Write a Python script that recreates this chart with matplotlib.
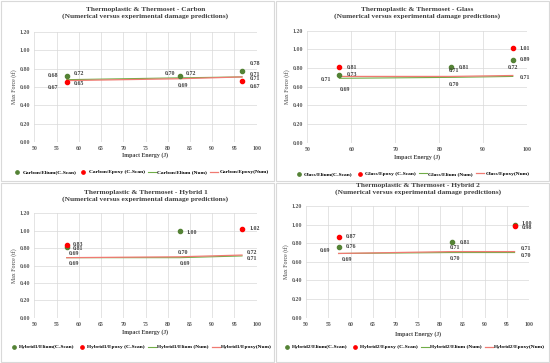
import matplotlib
matplotlib.use("Agg")
import matplotlib.pyplot as plt
from matplotlib.patches import Rectangle

plt.rcParams['font.family'] = ['Liberation Serif', 'DejaVu Serif']
plt.rcParams['font.weight'] = 'bold'

W, H = 550, 363

# impact energies (J)
energy = [57.3, 82.7, 96.7]

# Carbon
carbon_elium_cscan = [0.72, 0.72, 0.78]
carbon_epoxy_cscan_x = [57.3, 96.7]
carbon_epoxy_cscan = [0.65, 0.67]
carbon_elium_num = [0.68, 0.70, 0.71]
carbon_epoxy_num = [0.67, 0.69, 0.71]

# Glass
glass_elium_cscan = [0.73, 0.81, 0.89]
glass_epoxy_cscan_x = [57.3, 96.7]
glass_epoxy_cscan = [0.81, 1.01]
glass_elium_num = [0.69, 0.70, 0.71]
glass_epoxy_num = [0.71, 0.71, 0.72]

# Hybrid 1
hyb1_elium_cscan_x = [57.3, 82.7]
hyb1_elium_cscan = [0.81, 1.00]
hyb1_epoxy_cscan_x = [57.3, 96.7]
hyb1_epoxy_cscan = [0.83, 1.02]
hyb1_elium_num = [0.69, 0.69, 0.71]
hyb1_epoxy_num = [0.69, 0.70, 0.72]

# Hybrid 2
hyb2_elium_cscan = [0.76, 0.81, 1.00]
hyb2_epoxy_cscan_x = [57.3, 96.7]
hyb2_epoxy_cscan = [0.87, 0.98]
hyb2_elium_num = [0.69, 0.70, 0.70]
hyb2_epoxy_num = [0.69, 0.71, 0.71]

GREEN = '#548235'
RED = '#ff0000'
LRED = '#f07a72'
GRID = '#d9d9d9'
FS = 4.2
LFS = 3.9


def px_axes(fig, x0, x1, ytop, ybot):
    return fig.add_axes([x0 / W, (H - ybot) / H, (x1 - x0) / W, (ybot - ytop) / H])


def label(ax, x, y, txt, dx, dy):
    ax.annotate(txt, (x, y), xytext=(dx, dy), textcoords='offset points',
                fontsize=FS, ha='center', va='center', color='#404040')


def panel(fig, box, name, xstep, cscan_e, cscan_p, num_e, num_p, labels,
          title_y, xlab_y, leg_xy):
    x0, x1, ytop, ybot = box
    ax = px_axes(fig, x0, x1, ytop, ybot)
    ax.plot(energy, num_e[0], color='#70ad47', lw=0.8, label=name + '/Elium (Num)', zorder=2)
    ax.plot(energy, num_p[0], color=LRED, lw=0.9, label=name + '/Epoxy(Num)', zorder=2)
    ax.scatter(cscan_e[0], cscan_e[1], s=9, color=GREEN, label=name + '/Elium(C-Scan)', zorder=3)
    ax.scatter(cscan_p[0], cscan_p[1], s=9, color=RED, label=name + '/Epoxy (C-Scan)', zorder=3)
    for (x, y, t, dx, dy) in labels:
        label(ax, x, y, t, dx, dy)
    ax.set_xlim(50, 100)
    ax.set_ylim(0, 1.2)
    ax.set_xticks(range(50, 101, xstep))
    ax.set_yticks([i * 0.2 for i in range(7)])
    ax.set_yticklabels(['%.2f' % (i * 0.2) for i in range(7)])
    ax.tick_params(labelsize=FS, length=0, colors='#595959', pad=3)
    ax.grid(True, color=GRID, lw=0.5)
    for s in ax.spines.values():
        s.set_visible(False)
    ax.set_axisbelow(True)
    ax.set_ylabel('Max Force (tf)', fontsize=FS, color='#404040', labelpad=2)
    cx = (x0 + x1) / 2 / W
    fig.text(cx, 1 - title_y / H,
             'Thermoplastic & Thermoset - ' + name.replace('Hybrid1', 'Hybrid 1').replace('Hybrid2', 'Hybrid 2')
             + '\n(Numerical versus experimental damage predictions)',
             ha='center', va='center', fontsize=5.3, color='#404040', linespacing=1.15)
    fig.text(cx, 1 - xlab_y / H, 'Impact Energy (J)', ha='center', va='center',
             fontsize=FS, color='#404040')
    h, l = ax.get_legend_handles_labels()
    order = [2, 3, 0, 1]
    ax.legend([h[i] for i in order], [l[i] for i in order], ncol=4, loc='center',
              bbox_to_anchor=(leg_xy[0] / W, 1 - leg_xy[1] / H),
              bbox_transform=fig.transFigure, frameon=False, fontsize=LFS,
              handlelength=1.4, columnspacing=0.6, handletextpad=0.3, markerscale=0.8)
    return ax


fig = plt.figure(figsize=(W / 100, H / 100), dpi=100)

for (rx, ry, rw, rh) in [(1, 1, 273, 180), (276, 1, 273, 180), (1, 183, 273, 179), (276, 183, 273, 179)]:
    fig.patches.append(Rectangle((rx / W, 1 - (ry + rh) / H), rw / W, rh / H,
                                 transform=fig.transFigure, fill=False, ec='#d9d9d9', lw=0.8))

e = energy
panel(fig, (34.3, 256.7, 32, 142), 'Carbon', 5,
      (e, carbon_elium_cscan), (carbon_epoxy_cscan_x, carbon_epoxy_cscan),
      (carbon_elium_num,), (carbon_epoxy_num,),
      [(e[0], carbon_elium_num[0], '0.68', -10, 3), (e[0], carbon_elium_cscan[0], '0.72', 9, 2),
       (e[0], carbon_epoxy_num[0], '0.67', -10, -5), (e[0], carbon_epoxy_cscan[0], '0.65', 9, -1),
       (e[1], carbon_elium_num[1], '0.70', -7, 3), (e[1], carbon_elium_cscan[1], '0.72', 8, 2),
       (e[1], carbon_epoxy_num[1], '0.69', 2, -5),
       (e[2], carbon_elium_cscan[2], '0.78', 9, 5), (e[2], carbon_elium_num[2], '0.71', 9, 2),
       (e[2], carbon_epoxy_num[2], '0.71', 9, -1), (e[2], carbon_epoxy_cscan[1], '0.67', 9, -4)],
      13, 155, (141, 172))

panel(fig, (307.3, 527.3, 30.7, 142.7), 'Glass', 10,
      (e, glass_elium_cscan), (glass_epoxy_cscan_x, glass_epoxy_cscan),
      (glass_elium_num,), (glass_epoxy_num,),
      [(e[0], glass_epoxy_cscan[0], '0.81', 9, 0), (e[0], glass_elium_cscan[0], '0.73', 9, 0),
       (e[0], glass_epoxy_num[0], '0.71', -10, -2), (e[0], glass_elium_num[0], '0.69', 4, -8),
       (e[1], glass_elium_cscan[1], '0.81', 9, 0), (e[1], glass_epoxy_num[1], '0.71', 2, 4),
       (e[1], glass_elium_num[1], '0.70', 2, -5),
       (e[2], glass_epoxy_cscan[1], '1.01', 9, 0), (e[2], glass_elium_cscan[2], '0.89', 9, 0),
       (e[2], glass_epoxy_num[2], '0.72', 0, 6), (e[2], glass_elium_num[2], '0.71', 9, -1)],
      13, 157, (412, 174))

panel(fig, (34.3, 256.7, 213.3, 317.7), 'Hybrid1', 5,
      (hyb1_elium_cscan_x, hyb1_elium_cscan), (hyb1_epoxy_cscan_x, hyb1_epoxy_cscan),
      (hyb1_elium_num,), (hyb1_epoxy_num,),
      [(e[0], hyb1_epoxy_cscan[0], '0.83', 8, 1), (e[0], hyb1_elium_cscan[0], '0.81', 8, -1),
       (e[0], hyb1_epoxy_num[0], '0.69', 5, 3), (e[0], hyb1_elium_num[0], '0.69', 5, -4),
       (e[1], hyb1_elium_cscan[1], '1.00', 9, -1), (e[1], hyb1_epoxy_num[1], '0.70', 2, 3),
       (e[1], hyb1_elium_num[1], '0.69', 4, -4),
       (e[2], hyb1_epoxy_cscan[1], '1.02', 9, 0), (e[2], hyb1_epoxy_num[2], '0.72', 7, 2),
       (e[2], hyb1_elium_num[2], '0.71', 7, -2)],
      196, 332, (141, 347))

panel(fig, (306, 529.3, 206, 317.7), 'Hybrid2', 5,
      (e, hyb2_elium_cscan), (hyb2_epoxy_cscan_x, hyb2_epoxy_cscan),
      (hyb2_elium_num,), (hyb2_epoxy_num,),
      [(e[0], hyb2_epoxy_cscan[0], '0.87', 9, 0), (e[0], hyb2_elium_cscan[0], '0.76', 9, 0),
       (e[0], hyb2_epoxy_num[0], '0.69', -10, 2), (e[0], hyb2_elium_num[0], '0.69', 6, -4),
       (e[1], hyb2_elium_cscan[1], '0.81', 9, 0), (e[1], hyb2_epoxy_num[1], '0.71', 2, 3),
       (e[1], hyb2_elium_num[1], '0.70', 2, -4),
       (e[2], hyb2_elium_cscan[2], '1.00', 9, 1), (e[2], hyb2_epoxy_cscan[1], '0.98', 9, -1),
       (e[2], hyb2_epoxy_num[2], '0.71', 8, 2), (e[2], hyb2_elium_num[2], '0.70', 8, -2)],
      189, 334, (414, 347))

fig.savefig('out.png', dpi=100)
